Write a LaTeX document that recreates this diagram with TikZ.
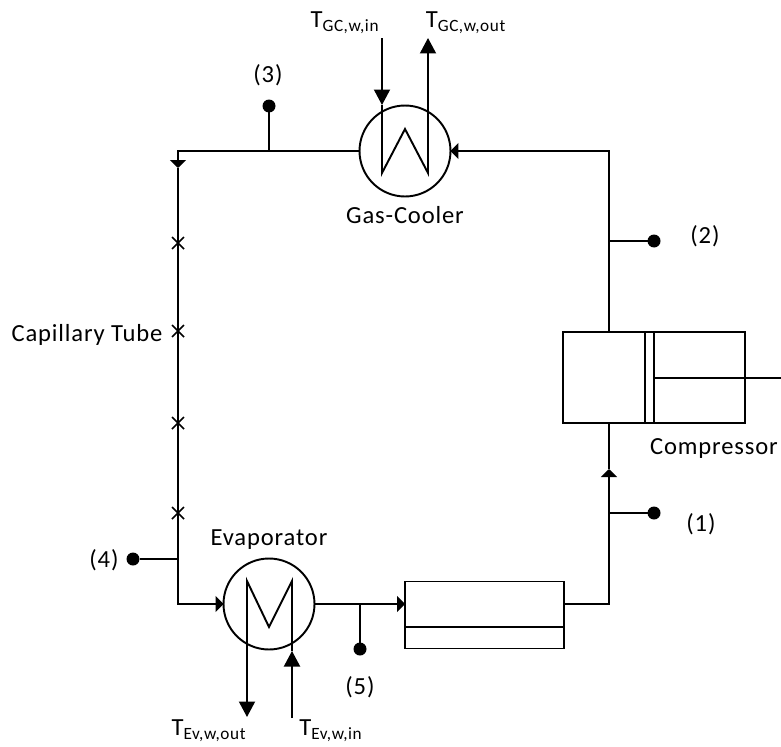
\documentclass[tikz,border=0pt]{standalone}
\usepackage{fontspec}
\setmainfont[LetterSpace=3.5]{Carlito}
\usepackage{tikz}
\usetikzlibrary{arrows.meta,shapes.misc}

\tikzset{
    pipe/.style={line width=1.1pt},
    hx/.style={circle,draw,line width=1.1pt,minimum size=1.82cm,inner sep=0pt,outer sep=0pt},
    vessel/.style={rectangle,draw,line width=1.1pt,inner sep=0pt,outer sep=0pt},
    probe/.style={circle,fill=black,minimum size=0.26cm,inner sep=0pt,outer sep=0pt},
    throttle/.style={cross out,draw,line width=0.9pt,minimum size=0.24cm,inner sep=0pt,outer sep=0pt},
    lbl/.style={inner sep=0pt,font=\fontsize{14}{16}\selectfont},
    small/.style={-{Triangle[length=0.16cm,width=0.32cm]}},
    big/.style={-{Triangle[length=0.31cm,width=0.32cm]}}
}

\begin{document}
\begin{tikzpicture}[x=0.02cm,y=-0.02cm]
        \useasboundingbox (0,0) rectangle (781,747);

        \node[hx] at (405,151) (gc) {};
        \node[hx] at (269,604) (ev) {};
        \node[vessel,minimum width=3.64cm,minimum height=1.82cm] at (654,377.5) (comp) {};
        \node[vessel,minimum width=3.18cm,minimum height=1.34cm] at (484.5,615) (ihx) {};

        \node[throttle] at (178,243) (t1) {};
        \node[throttle] at (178,331) (t2) {};
        \node[throttle] at (178,423) (t3) {};
        \node[throttle] at (178,513) (t4) {};

        \node[probe] at (654,513) (p1) {};
        \node[probe] at (654,241) (p2) {};
        \node[probe] at (269,106) (p3) {};
        \node[probe] at (133,559) (p4) {};
        \node[probe] at (360,649) (p5) {};

        \coordinate (compin) at (609,423);
        \coordinate (compout) at (609,332);
        \coordinate (compflow) at (609,469);
        \coordinate (ihxout) at (564,604);
        \coordinate (ihxin) at (405,604);
        \coordinate (ihxl) at (405,627);
        \coordinate (ihxr) at (564,627);
        \coordinate (capflow) at (178,168);
        \coordinate (j1) at (609,513);
        \coordinate (j2) at (609,241);
        \coordinate (j3) at (269,151);
        \coordinate (j4) at (178,559);
        \coordinate (j5) at (360,604);

        \coordinate (pistonat) at (645,332);
        \coordinate (pistonab) at (645,423);
        \coordinate (pistonbt) at (654,332);
        \coordinate (pistonbb) at (654,423);
        \coordinate (rodin) at (654,378);
        \coordinate (rodout) at (781,378);

        \coordinate (gcwin) at (382,38);
        \coordinate (gcwhead) at (382,105);
        \coordinate (gcwa) at (382,173);
        \coordinate (gcwb) at (405,129);
        \coordinate (gcwc) at (428,173);
        \coordinate (gcwout) at (428,38);

        \coordinate (evwin) at (292,718);
        \coordinate (evwhead) at (292,651);
        \coordinate (evwa) at (292,581);
        \coordinate (evwb) at (269,627);
        \coordinate (evwc) at (247,581);
        \coordinate (evwout) at (247,717);

        \draw[pipe,small] (ihxout) -| (compflow);
        \draw[pipe] (compflow) -- (compin);
        \draw[pipe,small] (compout) |- (gc);
        \draw[pipe,small] (gc) -| (capflow);
        \draw[pipe,small] (capflow) |- (ev);
        \draw[pipe,small] (ev) -- (ihxin);
        \draw[pipe] (ihxl) -- (ihxr);

        \draw[pipe] (pistonat) -- (pistonab);
        \draw[pipe] (pistonbt) -- (pistonbb);
        \draw[pipe] (rodin) -- (rodout);

        \draw[pipe] (p1) -- (j1);
        \draw[pipe] (p2) -- (j2);
        \draw[pipe] (p3) -- (j3);
        \draw[pipe] (p4) -- (j4);
        \draw[pipe] (p5) -- (j5);

        \draw[pipe,big] (gcwin) -- (gcwhead);
        \draw[pipe,big] (gcwhead) -- (gcwa) -- (gcwb) -- (gcwc) -- (gcwout);
        \draw[pipe,big] (evwin) -- (evwhead);
        \draw[pipe,big] (evwhead) -- (evwa) -- (evwb) -- (evwc) -- (evwout);

        \node[lbl] at (701,524) (l1) {(1)};
        \node[lbl] at (705,236) (l2) {(2)};
        \node[lbl] at (268,75) (l3) {(3)};
        \node[lbl] at (104,560) (l4) {(4)};
        \node[lbl] at (360,687) (l5) {(5)};
        \node[lbl] at (405,215) (gclabel) {Gas-Cooler};
        \node[lbl] at (269,540) (evlabel) {Evaporator};
        \node[lbl] at (87,335) (caplabel) {Capillary Tube};
        \node[lbl] at (714,448) (complabel) {Compressor};
        \node[lbl] at (345,23) (gcin) {T\textsubscript{GC,w,in}};
        \node[lbl] at (466,23) (gcout) {T\textsubscript{GC,w,out}};
        \node[lbl] at (209,731) (evout) {T\textsubscript{Ev,w,out}};
        \node[lbl] at (331,731) (evin) {T\textsubscript{Ev,w,in}};
    \end{tikzpicture}
\end{document}
